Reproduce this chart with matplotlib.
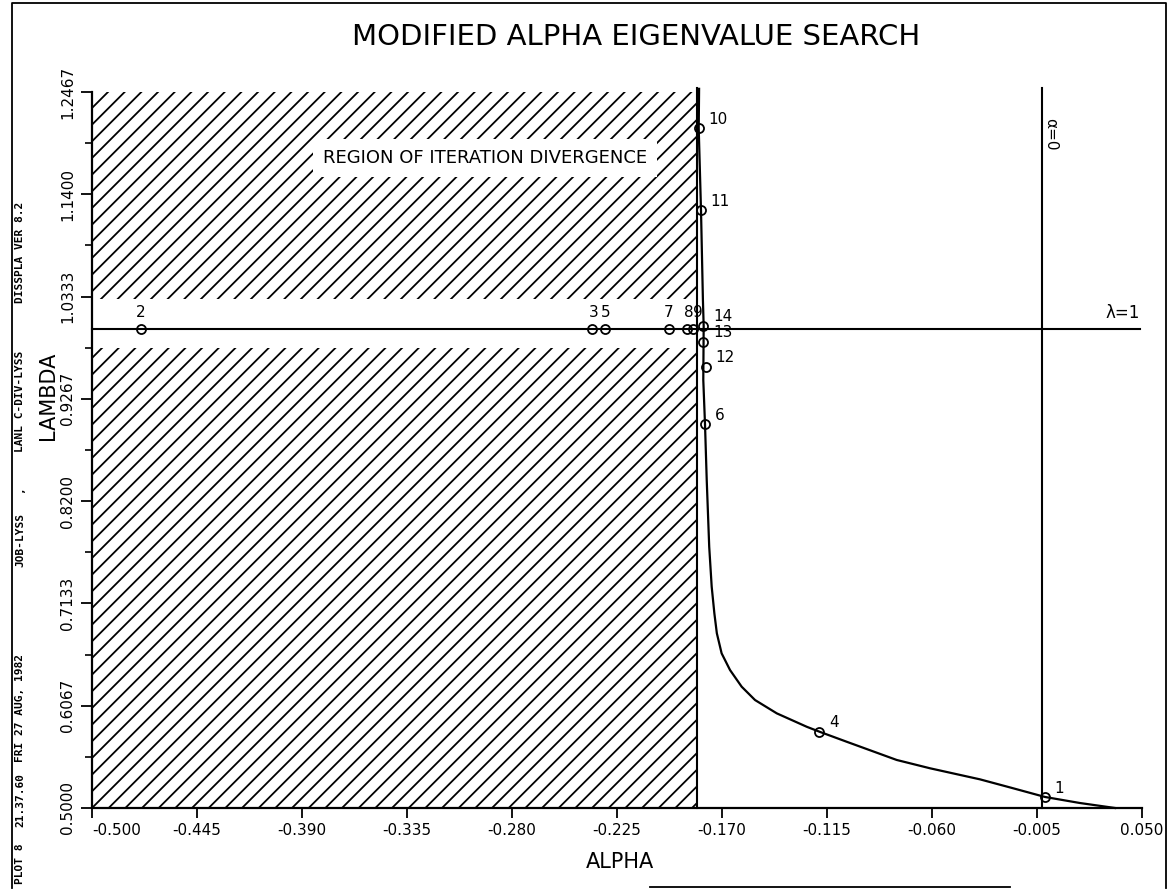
import numpy as np
import matplotlib
matplotlib.use('Agg')
import matplotlib.pyplot as plt
from matplotlib.patches import Rectangle
from matplotlib.lines import Line2D

# axis ticks
x_ticks = [-0.500, -0.445, -0.390, -0.335, -0.280, -0.225, -0.170, -0.115, -0.060, -0.005, 0.050]
y_ticks = [0.5000, 0.6067, 0.7133, 0.8200, 0.9267, 1.0333, 1.1400, 1.2467]

# search curve (alpha, lambda), top to bottom
curve_alpha = [-0.1820, -0.1822, -0.1810, -0.1800, -0.1796, -0.1798, -0.1789, -0.1780,
               -0.1767, -0.1754, -0.1740, -0.1727, -0.1702, -0.1658, -0.1597, -0.1527,
               -0.1413, -0.1256, -0.1190, -0.1047, -0.0785, -0.0610, -0.0349, -0.0181,
               -0.0008, 0.0175, 0.0359]
curve_lambda = [1.2500, 1.2088, 1.1236, 1.0300, 1.0026, 0.9463, 0.9001, 0.8420,
                0.7725, 0.7308, 0.7030, 0.6822, 0.6613, 0.6439, 0.6265, 0.6126,
                0.5987, 0.5847, 0.5796, 0.5691, 0.5501, 0.5414, 0.5299, 0.5209,
                0.5115, 0.5052, 0.5000]

# iteration points
pt_names = ['1', '2', '3', '4', '5', '6', '7', '8', '9', '10', '11', '12', '13', '14']
pt_alpha = [-0.0008, -0.4743, -0.2383, -0.1190, -0.2313, -0.1789, -0.1978, -0.1885,
            -0.1853, -0.1822, -0.1810, -0.1786, -0.1798, -0.1797]
pt_lambda = [0.5115, 1.0, 1.0, 0.5796, 1.0, 0.9001, 1.0, 1.0,
             1.0, 1.2088, 1.1236, 0.9602, 0.9863, 1.003]

# divergence region
div_alpha_edge = -0.1830
div_gap_low = 0.980
div_gap_high = 1.031
alpha_zero_line = -0.0025

plt.rcParams['hatch.linewidth'] = 1.3

W, H = 1172, 890
fig = plt.figure(figsize=(W / 100, H / 100), dpi=100)
ax = fig.add_axes([92 / W, 1 - 808 / H, 1050 / W, 716 / H])
ax.set_xlim(x_ticks[0], x_ticks[-1])
ax.set_ylim(y_ticks[0], y_ticks[-1])

for sp in ['top', 'right']:
    ax.spines[sp].set_visible(False)
for sp in ['left', 'bottom']:
    ax.spines[sp].set_linewidth(1.6)

# hatched region
ax.add_patch(Rectangle((x_ticks[0], y_ticks[0]), div_alpha_edge - x_ticks[0], div_gap_low - y_ticks[0],
                       hatch='//', fill=False, edgecolor='black', lw=0))
ax.add_patch(Rectangle((x_ticks[0], div_gap_high), div_alpha_edge - x_ticks[0], y_ticks[-1] - div_gap_high,
                       hatch='//', fill=False, edgecolor='black', lw=0))
ax.plot([div_alpha_edge, div_alpha_edge], [y_ticks[0], 1.2505], color='black', lw=1.5, clip_on=False)

# reference lines
ax.plot([x_ticks[0], 0.049], [1.0, 1.0], color='black', lw=1.5, clip_on=False)
ax.plot([alpha_zero_line, alpha_zero_line], [y_ticks[0], 1.2505], color='black', lw=1.5, clip_on=False)

ax.plot(curve_alpha, curve_lambda, color='black', lw=1.6, clip_on=False)
ax.plot(pt_alpha, pt_lambda, 'o', mfc='none', mec='black', ms=6.5, mew=1.3, clip_on=False, zorder=5)

# label placement: (dx, dy) in points, horizontal alignment
above = {'2': (0, 'center'), '7': (0, 'center'), '3': (5, 'right'), '5': (-3, 'left'),
         '8': (5, 'right'), '9': (0.5, 'left')}
for n, a, l in zip(pt_names, pt_alpha, pt_lambda):
    if n in above:
        dx, ha = above[n]
        ax.annotate(n, (a, l), xytext=(dx, 6), textcoords='offset points',
                    ha=ha, va='bottom', fontsize=11)
    else:
        ax.annotate(n, (a, l), xytext=(7, 1), textcoords='offset points',
                    ha='left', va='bottom', fontsize=11)

ax.text(-0.2941, 1.1778, 'REGION OF ITERATION DIVERGENCE', fontsize=13, ha='center', va='center',
        bbox=dict(boxstyle='square,pad=0.55', fc='white', ec='none'))
ax.annotate('λ=1', (0.040, 1.0), xytext=(0, 5), textcoords='offset points',
            ha='center', va='bottom', fontsize=12)
ax.text(alpha_zero_line + 0.0045, 1.203, 'α=0', rotation=-90, ha='center', va='center', fontsize=11)

# ticks
ax.set_xticks(x_ticks)
ax.set_xticklabels(['%.3f' % v for v in x_ticks])
ax.set_yticks(y_ticks)
ax.set_yticklabels(['%.4f' % v for v in y_ticks], rotation=90, va='center')
ax.set_yticks([(y_ticks[i] + y_ticks[i + 1]) / 2 for i in range(len(y_ticks) - 1)], minor=True)
ax.tick_params(axis='x', direction='out', length=7, width=1.3, labelsize=11, pad=4)
ax.tick_params(axis='y', which='major', direction='out', length=8, width=1.3, labelsize=11, pad=4)
ax.tick_params(axis='y', which='minor', direction='out', length=5, width=1.2)
ax.get_xticklabels()[0].set_ha('left')

ax.set_xlabel('ALPHA', fontsize=15)
ax.xaxis.set_label_coords(0.503, -0.061)
ax.set_ylabel('LAMBDA', fontsize=15)
ax.yaxis.set_label_coords(-0.032, 0.576)

fig.text(636 / W, 1 - 37 / H, 'MODIFIED ALPHA EIGENVALUE SEARCH', fontsize=21, ha='center', va='center')

# page frame and plot stamp
fig.add_artist(Line2D([12 / W, 12 / W, 1166 / W, 1166 / W], [2 / H, 1 - 3 / H, 1 - 3 / H, 2 / H],
                      color='black', lw=1.3))
fig.add_artist(Line2D([650 / W, 1010 / W], [3 / H, 3 / H], color='black', lw=1.3))
stamp = [('PLOT 8', 864), ('21.37.60', 800), ('FRI 27 AUG, 1982', 708), ('JOB-LYSS', 540),
         (',', 490), ('LANL C-DIV-LYSS', 401), ('DISSPLA VER 8.2', 252)]
for s, yp in stamp:
    fig.text(20 / W, 1 - yp / H, s, rotation=90, ha='center', va='center', fontsize=8,
             family='DejaVu Sans Mono', weight='bold')

fig.savefig('out.png', dpi=100)
